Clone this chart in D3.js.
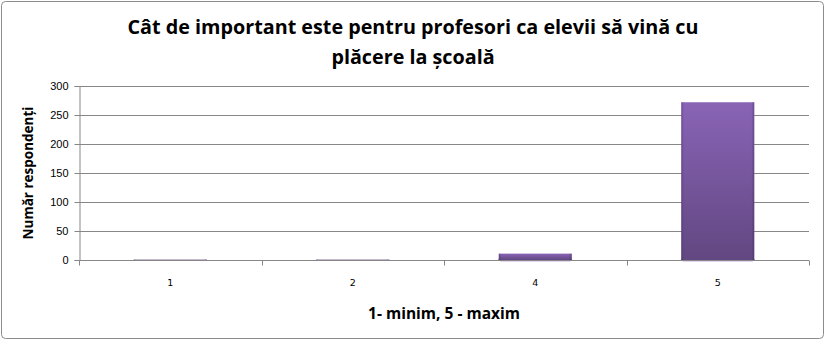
<!DOCTYPE html>
<html><head><meta charset="utf-8">
<script src="https://cdn.jsdelivr.net/npm/d3@7"></script>
<style>body{margin:0;background:#fff}svg{display:block}</style>
</head><body>
<svg id="c" width="826" height="341"></svg>
<script>
const categories = ["1", "2", "4", "5"];
const values = [1, 1, 11, 272];
const yTicks = [0, 50, 100, 150, 200, 250, 300];
const titleLines = ["Cât de important este pentru profesori ca elevii să vină cu", "plăcere la școală"];
const xTitle = "1- minim, 5 - maxim";
const yTitle = "Număr respondenți";

const svg = d3.select("#c");
const W = 826, H = 341;
const m = {left: 79, right: 17, top: 86, bottom: 81};
const x = d3.scaleBand().domain(categories).range([m.left, W - m.right]).paddingInner(0.6).paddingOuter(0.3);
const y = d3.scaleLinear().domain([0, 300]).range([H - m.bottom, m.top]);

svg.append("rect").attr("x", 1.5).attr("y", 1.5).attr("width", W - 4).attr("height", H - 4)
  .attr("rx", 4).attr("fill", "#fff").attr("stroke", "#8c8c8c").attr("stroke-width", 1);

const defs = svg.append("defs");
const g1 = defs.append("linearGradient").attr("id", "bg").attr("x1", 0).attr("y1", 0).attr("x2", 0).attr("y2", 1);
g1.append("stop").attr("offset", 0).attr("stop-color", "#8964b6");
g1.append("stop").attr("offset", 1).attr("stop-color", "#624781");
const g2 = defs.append("linearGradient").attr("id", "sg").attr("x1", 0).attr("y1", 0).attr("x2", 1).attr("y2", 0);
g2.append("stop").attr("offset", 0).attr("stop-color", "#3e2a5c").attr("stop-opacity", 0.35);
g2.append("stop").attr("offset", 0.04).attr("stop-color", "#3e2a5c").attr("stop-opacity", 0);
g2.append("stop").attr("offset", 0.96).attr("stop-color", "#3e2a5c").attr("stop-opacity", 0);
g2.append("stop").attr("offset", 1).attr("stop-color", "#3e2a5c").attr("stop-opacity", 0.45);

// gridlines
svg.append("g").selectAll("line").data(yTicks).join("line")
  .attr("x1", m.left).attr("x2", W - m.right)
  .attr("y1", d => Math.round(y(d)) + 0.5).attr("y2", d => Math.round(y(d)) + 0.5)
  .attr("stroke", "#878787").attr("stroke-width", 1);

// y axis
const ya = svg.append("g").attr("transform", `translate(${m.left + 0.5},0)`)
  .call(d3.axisLeft(y).tickValues(yTicks).tickSize(5).tickPadding(6));
ya.select(".domain").attr("stroke", "#878787");
ya.selectAll(".tick line").attr("stroke", "#878787");
ya.selectAll(".tick").attr("transform", d => `translate(0,${Math.round(y(d)) + 0.5})`);
ya.selectAll("text").attr("font-family", "Liberation Sans, Arial, sans-serif").attr("font-size", 11).attr("fill", "#000");

// bars
const bars = svg.append("g").selectAll("g").data(categories).join("g");
bars.append("rect")
  .attr("x", d => x(d)).attr("width", x.bandwidth())
  .attr("y", (d, i) => y(values[i])).attr("height", (d, i) => y(0) - y(values[i]))
  .attr("fill", (d, i) => values[i] < 3 ? "#9a8ab0" : "url(#bg)");
bars.append("rect")
  .attr("x", d => x(d)).attr("width", x.bandwidth())
  .attr("y", (d, i) => y(values[i])).attr("height", (d, i) => y(0) - y(values[i]))
  .attr("fill", "url(#sg)");
bars.filter((d, i) => values[i] >= 3).append("rect")
  .attr("x", d => x(d) + 1.5).attr("width", x.bandwidth() - 3)
  .attr("y", (d, i) => y(values[i])).attr("height", 2)
  .attr("fill", "#b193dc").attr("opacity", 0.9);
bars.filter((d, i) => values[i] >= 3).append("rect")
  .attr("x", d => x(d)).attr("width", x.bandwidth())
  .attr("y", (d, i) => y(values[i])).attr("height", (d, i) => y(0) - y(values[i]))
  .attr("fill", "none").attr("stroke", "#4a356a").attr("stroke-width", 0.6).attr("stroke-opacity", 0.7);

// x axis
const xa = svg.append("g").attr("transform", `translate(0,${Math.round(y(0)) + 0.5})`);
xa.append("line").attr("x1", m.left).attr("x2", W - m.right).attr("stroke", "#878787");
const bounds = [m.left].concat(categories.map((d, i) => m.left + (i + 1) * (W - m.right - m.left) / categories.length));
xa.selectAll("line.t").data(bounds).join("line").attr("class", "t")
  .attr("x1", d => Math.round(d) + 0.5).attr("x2", d => Math.round(d) + 0.5).attr("y1", 0).attr("y2", 5)
  .attr("stroke", "#878787");
xa.selectAll("text").data(categories).join("text")
  .attr("x", d => x(d) + x.bandwidth() / 2).attr("y", 25).attr("text-anchor", "middle")
  .attr("font-family", "DejaVu Sans, Verdana, sans-serif").attr("font-size", 9.5).attr("fill", "#000").text(d => d);

function fit(sel, target) {
  const fs = +sel.attr("font-size");
  const w = sel.node().getComputedTextLength();
  sel.attr("font-size", fs * target / w);
}

// titles
const t = svg.append("g");
titleLines.forEach((l, i) => {
  t.append("text").attr("x", 413).attr("y", 34 + i * 30).attr("text-anchor", "middle")
    .attr("font-family", "Open Sans, sans-serif").attr("font-weight", "bold").attr("font-size", 18)
    .attr("fill", "#000").text(l);
});
const t0 = t.select("text").node();
const sc = 571 / t0.getComputedTextLength();
t.selectAll("text").attr("font-size", 18 * sc);

const xt = svg.append("text").attr("x", 444).attr("y", 319).attr("text-anchor", "middle")
  .attr("font-family", "Open Sans, sans-serif").attr("font-weight", "bold").attr("font-size", 14)
  .attr("fill", "#000").text(xTitle);
fit(xt, 152);

const yt = svg.append("text").attr("transform", `translate(33,${(y(0) + y(300)) / 2}) rotate(-90)`)
  .attr("text-anchor", "middle")
  .attr("font-family", "Open Sans, sans-serif").attr("font-weight", "bold").attr("font-size", 12.5)
  .attr("fill", "#000").text(yTitle);
fit(yt, 133);
</script>
</body></html>
